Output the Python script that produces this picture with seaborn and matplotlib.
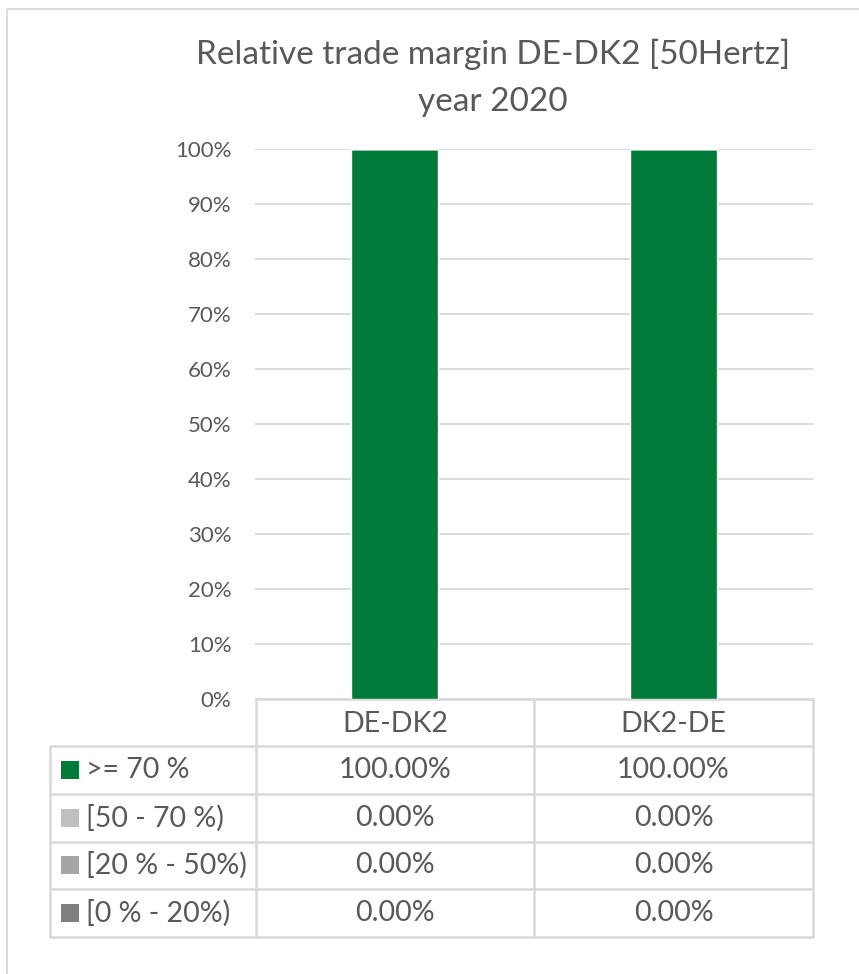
"""
    plot.py
    Relative trade margin DE-DK2 chart with data table (Excel style).
"""
import pandas as pd
import seaborn as sns
import matplotlib.pyplot as plt
from matplotlib.patches import Rectangle

#################################################################################
# Data
#################################################################################

BORDERS = ['DE-DK2', 'DK2-DE']
CLASSES = ['>= 70 %', '[50 - 70 %)', '[20 % - 50%)', '[0 % - 20%)']
COLORS = ['#007A37', '#BFBFBF', '#A5A5A5', '#7F7F7F']
SHARE_70_UP = [100.0, 100.0]
SHARE_50_70 = [0.0, 0.0]
SHARE_20_50 = [0.0, 0.0]
SHARE_0_20 = [0.0, 0.0]
YTICKS = [0, 10, 20, 30, 40, 50, 60, 70, 80, 90, 100]

TITLE_LINES = ['Relative trade margin DE-DK2 [50Hertz]', 'year 2020']
TEXT_COLOR = '#595959'
LINE_COLOR = '#D9D9D9'

#################################################################################
# Plot
#################################################################################

sns.set_style('white')
plt.rcParams['font.family'] = ['Lato', 'DejaVu Sans']

W, H = 859, 974
fig = plt.figure(figsize=(W / 100, H / 100), dpi=100)

# Background axes in pixel coordinates, for frame and data table.
bg = fig.add_axes([0, 0, 1, 1])
bg.set_xlim(0, W)
bg.set_ylim(H, 0)
bg.axis('off')

# Plot area (pixel bounds).
left, right, top, bottom = 255, 813, 149, 699
ax = fig.add_axes([left / W, (H - bottom) / H, (right - left) / W, (bottom - top) / H])

series = [SHARE_70_UP, SHARE_50_70, SHARE_20_50, SHARE_0_20]
df = pd.DataFrame({'border': BORDERS * len(CLASSES),
                   'cls': [c for c in CLASSES for _ in BORDERS],
                   'value': [v for s in series for v in s]})

# Stack the classes bottom-up.
base = [0.0] * len(BORDERS)
for cls, color in zip(CLASSES, COLORS):
    sub = df[df['cls'] == cls]
    sns.barplot(data=sub, x='border', y='value', order=BORDERS, color=color,
                saturation=1, width=0.31, ax=ax, bottom=base, zorder=3)
    base = [b + v for b, v in zip(base, sub['value'])]

ax.set_ylim(0, 100)
ax.set_xlim(-0.5, len(BORDERS) - 0.5)
ax.set_yticks(YTICKS)
ax.set_yticklabels([f'{t}%' for t in YTICKS], fontsize=16, color=TEXT_COLOR)
ax.set_xticks([])
ax.set_xlabel('')
ax.set_ylabel('')
ax.tick_params(axis='y', length=0, pad=17)
ax.grid(axis='y', color=LINE_COLOR, linewidth=1.3, zorder=0)
for s in ax.spines.values():
    s.set_visible(False)
ax.patch.set_alpha(0)

# Chart frame.
bg.add_patch(Rectangle((7, 9), W + 20, H + 20, fill=False,
                       edgecolor=LINE_COLOR, linewidth=1.3))

# Title, two centred lines.
for yb, line in zip([64, 111], TITLE_LINES):
    bg.text(493, yb, line, ha='center', va='baseline',
            fontsize=24, color=TEXT_COLOR)

# Data table.
tbl_left, col1, col2, tbl_right = 50, 256, 534, 813
hdr_top, hdr_bot, tbl_bot = 699, 746, 937
row_h = (tbl_bot - hdr_bot) / len(CLASSES)
lw = 1.8
kw = dict(color=LINE_COLOR, linewidth=lw)
bg.plot([col1, tbl_right], [hdr_top, hdr_top], **kw)
for xv in (col1, col2, tbl_right):
    bg.plot([xv, xv], [hdr_top, tbl_bot], **kw)
bg.plot([tbl_left, tbl_left], [hdr_bot, tbl_bot], **kw)
for i in range(len(CLASSES) + 1):
    yv = hdr_bot + i * row_h
    bg.plot([tbl_left, tbl_right], [yv, yv], **kw)

fs = 20.5
centers = [(col1 + col2) / 2, (col2 + tbl_right) / 2]
for xc, name in zip(centers, BORDERS):
    bg.text(xc, (hdr_top + hdr_bot) / 2 + 1, name, ha='center', va='center',
            fontsize=fs, color=TEXT_COLOR)

for i, (cls, color, vals) in enumerate(zip(CLASSES, COLORS, series)):
    yc = hdr_bot + (i + 0.5) * row_h
    bg.add_patch(Rectangle((61, yc - 9), 18, 18, facecolor=color, edgecolor='none'))
    bg.text(86, yc, cls, ha='left', va='center', fontsize=fs, color=TEXT_COLOR)
    for xc, v in zip(centers, vals):
        bg.text(xc, yc, f'{v:.2f}%', ha='center', va='center',
                fontsize=fs, color=TEXT_COLOR)

fig.savefig('out.png', dpi=100)
